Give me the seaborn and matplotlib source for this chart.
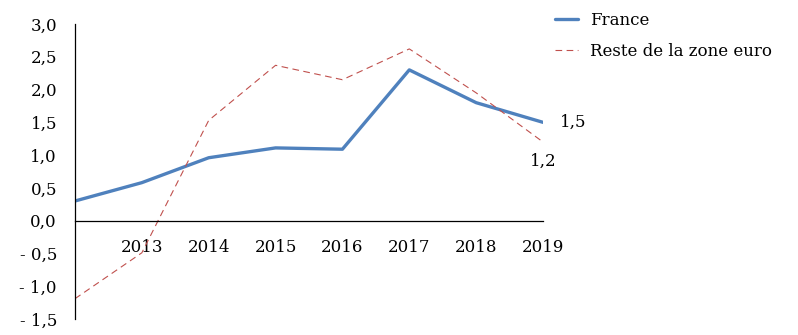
import matplotlib
matplotlib.use("Agg")
import matplotlib.pyplot as plt
import seaborn as sns
import pandas as pd
from matplotlib.lines import Line2D

years = [2012, 2013, 2014, 2015, 2016, 2017, 2018, 2019]
france = [0.30, 0.58, 0.96, 1.11, 1.09, 2.30, 1.80, 1.50]
reste = [-1.19, -0.49, 1.53, 2.37, 2.15, 2.62, 1.95, 1.20]
series_names = ["France", "Reste de la zone euro"]
xtick_labels = ["2013", "2014", "2015", "2016", "2017", "2018", "2019"]
yticks = [-1.5, -1.0, -0.5, 0.0, 0.5, 1.0, 1.5, 2.0, 2.5, 3.0]

sns.set_style("white")
plt.rcParams['font.family'] = ['DejaVu Serif']
plt.rcParams['text.color'] = 'black'
plt.rcParams['xtick.color'] = 'black'
plt.rcParams['ytick.color'] = 'black'

df = pd.DataFrame({
    "year": years * 2,
    "value": france + reste,
    "serie": [series_names[0]] * len(years) + [series_names[1]] * len(years),
})

fig = plt.figure(figsize=(7.98, 3.35), dpi=100)
ax = fig.add_axes([75/798, 1 - 319/335, (543 - 75)/798, (319 - 24)/335])

sns.lineplot(data=df, x="year", y="value", hue="serie", style="serie",
             palette={series_names[0]: "#4F81BD", series_names[1]: "#C0504D"},
             dashes={series_names[0]: "", series_names[1]: (6, 4)},
             size="serie", sizes={series_names[0]: 2.4, series_names[1]: 0.8},
             ax=ax, legend=False)

ax.set_xlim(2012, 2019)
ax.set_ylim(-1.5, 3.0)
ax.set_xlabel("")
ax.set_ylabel("")

ax.spines['top'].set_visible(False)
ax.spines['right'].set_visible(False)
ax.spines['bottom'].set_position(('data', 0))
for s in ['left', 'bottom']:
    ax.spines[s].set_color('black')
    ax.spines[s].set_linewidth(0.9)

fs = 12
ax.set_xticks(list(range(2013, 2020)))
ax.set_xticklabels(xtick_labels)
ax.set_yticks(yticks)
ax.set_yticklabels([("- " if v < 0 else "") + f"{abs(v):.1f}".replace(".", ",") for v in yticks])
ax.tick_params(axis='x', direction='out', length=4, width=0.9, colors='black', pad=9, labelsize=fs)
ax.tick_params(axis='y', direction='out', length=5, width=0.9, colors='black', pad=8, labelsize=fs)
ax.grid(False)

ax.annotate(f"{france[-1]:.1f}".replace(".", ","), xy=(years[-1], france[-1]),
            xytext=(12, 0), textcoords='offset points', ha='left', va='center',
            fontsize=fs, color='black')
ax.annotate(f"{reste[-1]:.1f}".replace(".", ","), xy=(years[-1], reste[-1]),
            xytext=(0, -14), textcoords='offset points', ha='center', va='center',
            fontsize=fs, color='black')

handles = [Line2D([], [], color="#4F81BD", lw=2.4),
           Line2D([], [], color="#C0504D", lw=0.8, dashes=(6, 4))]
leg = fig.legend(handles, series_names, loc='upper left', bbox_to_anchor=(543/798, 1.0),
                 frameon=False, fontsize=fs, handlelength=1.4, handletextpad=0.7,
                 labelspacing=0.85, borderaxespad=0.3)
for t in leg.get_texts():
    t.set_color('black')

fig.savefig("out.png", dpi=100)
